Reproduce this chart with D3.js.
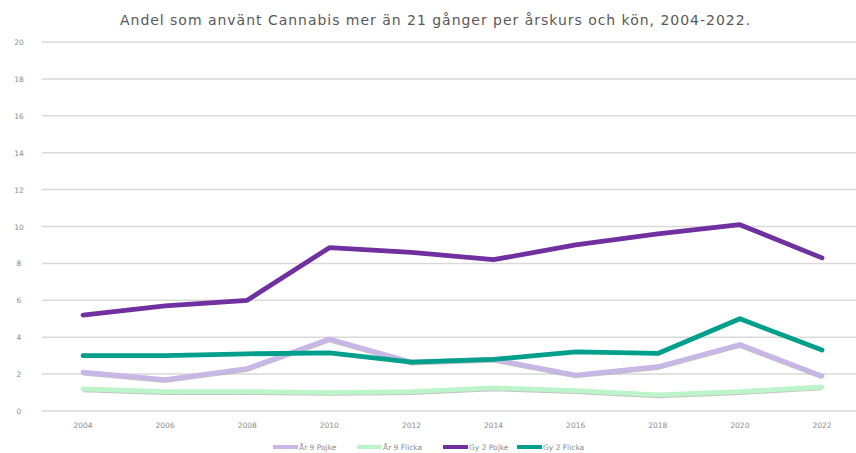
<!DOCTYPE html>
<html>
<head>
<meta charset="utf-8">
<script src="https://cdn.jsdelivr.net/npm/d3@7"></script>
<style>
  body { margin: 0; background: #fff; }
  text { font-family: "DejaVu Sans", sans-serif; }
</style>
</head>
<body>
<div id="chart"></div>
<script>
// data
var years = ["2004","2006","2008","2010","2012","2014","2016","2018","2020","2022"];
var ar9Pojke  = [2.1, 1.7, 2.3, 3.9, 2.65, 2.8, 1.95, 2.4, 3.6, 1.9];
var ar9Flicka = [1.2, 1.05, 1.05, 1.0, 1.05, 1.25, 1.1, 0.87, 1.05, 1.3];
var gy2Pojke  = [5.2, 5.7, 6.0, 8.85, 8.6, 8.2, 9.0, 9.6, 10.1, 8.3];
var gy2Flicka = [3.0, 3.0, 3.1, 3.15, 2.65, 2.8, 3.2, 3.12, 5.0, 3.3];
var yTicks = [0, 2, 4, 6, 8, 10, 12, 14, 16, 18, 20];

var series = [
  {name: "År 9 Pojke", values: ar9Pojke, color: "#c7b6e6"},
  {name: "År 9 Flicka", values: ar9Flicka, color: "#bcf5c9"},
  {name: "Gy 2 Pojke", values: gy2Pojke, color: "#7030a0"},
  {name: "Gy 2 Flicka", values: gy2Flicka, color: "#009f8b"}
];

var width = 856, height = 453;
var margin = {top: 42, right: 0, bottom: 42, left: 42};

var svg = d3.select("#chart").append("svg")
  .attr("width", width)
  .attr("height", height);

var x = d3.scalePoint()
  .domain(years)
  .range([83, 822]);

var y = d3.scaleLinear()
  .domain([0, 20])
  .range([height - margin.bottom, margin.top]);

// title
svg.append("text")
  .attr("x", 435)
  .attr("y", 25)
  .attr("text-anchor", "middle")
  .attr("textLength", 630)
  .style("font-size", "14px")
  .style("fill", "#595959")
  .text("Andel som använt Cannabis mer än 21 gånger per årskurs och kön, 2004-2022.");

// gridlines
svg.append("g")
  .selectAll("line")
  .data(yTicks)
  .join("line")
    .attr("x1", margin.left)
    .attr("x2", width - margin.right)
    .attr("y1", d => y(d))
    .attr("y2", d => y(d))
    .attr("stroke", "#d9d9d9")
    .attr("stroke-width", 1.5);

// y labels
svg.append("g")
  .selectAll("text")
  .data(yTicks)
  .join("text")
    .attr("x", 19)
    .attr("y", d => y(d) + 3)
    .attr("text-anchor", "middle")
    .style("font-size", "7.5px")
    .style("fill", "#8c8c8c")
    .text(d => d);

// x labels
svg.append("g")
  .selectAll("text")
  .data(years)
  .join("text")
    .attr("x", d => x(d))
    .attr("y", 428)
    .attr("text-anchor", "middle")
    .style("font-size", "7.5px")
    .style("fill", "#8c8c8c")
    .text(d => d);

var line = d3.line()
  .x((d, i) => x(years[i]))
  .y(d => y(d));

// thin dark edge under the light lines
svg.append("g")
  .selectAll("path")
  .data(series.slice(0, 2))
  .join("path")
    .attr("d", d => line(d.values))
    .attr("fill", "none")
    .attr("stroke", "#8a8a8a")
    .attr("stroke-opacity", 0.5)
    .attr("stroke-width", 5)
    .attr("transform", "translate(0,0.8)");

svg.append("g")
  .selectAll("path")
  .data(series)
  .join("path")
    .attr("d", d => line(d.values))
    .attr("fill", "none")
    .attr("stroke", d => d.color)
    .attr("stroke-width", 4.8)
    .attr("stroke-linejoin", "round")
    .attr("stroke-linecap", "round");

// legend
var legendX = [273, 357, 443, 517];
var legend = svg.append("g")
  .selectAll("g")
  .data(series)
  .join("g")
    .attr("transform", (d, i) => `translate(${legendX[i]}, 447)`);

legend.append("line")
  .attr("x1", 0)
  .attr("x2", 25)
  .attr("stroke", d => d.color)
  .attr("stroke-width", 4);

legend.append("text")
  .attr("x", 26)
  .attr("y", 3)
  .style("font-size", "7.5px")
  .style("fill", "#8c8c8c")
  .text(d => d.name);
</script>
</body>
</html>
